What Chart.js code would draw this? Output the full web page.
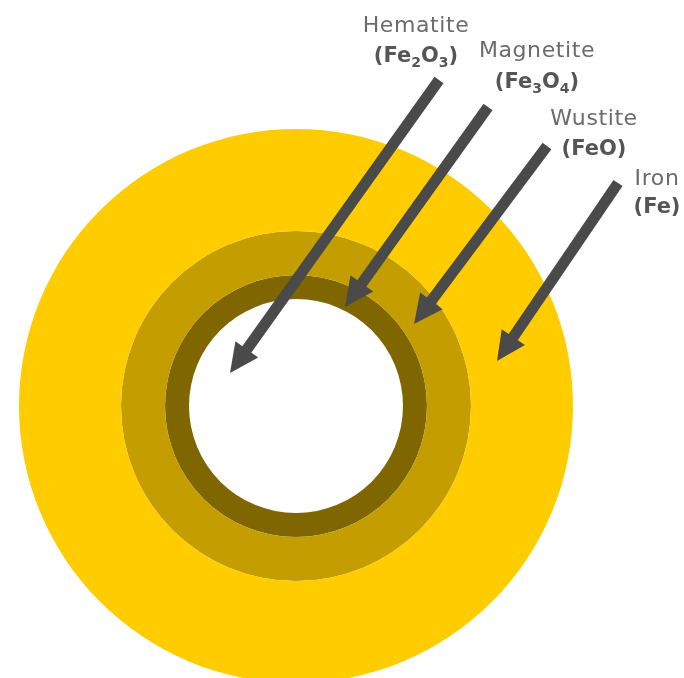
<!DOCTYPE html>
<html>
<head>
<meta charset="utf-8">
<script src="https://cdn.jsdelivr.net/npm/chart.js@4"></script>
<style>
  html, body { margin: 0; padding: 0; background: #fff; overflow: hidden; }
  #wrap { position: relative; width: 684px; height: 678px; overflow: hidden; }
</style>
</head>
<body>
<div id="wrap"><canvas id="layersChart" width="684" height="760"></canvas></div>
<script>
// layers from the outside in; radius = outer edge of each layer
const layerNames = ['Iron', 'Wustite', 'Magnetite', 'Hematite'];
const layerFormulas = ['(Fe)', '(FeO)', '(Fe3O4)', '(Fe2O3)'];
const layerRadii = [277, 175, 131, 107];

const layerColors = ['#ffcc00', '#c49e00', '#806600', '#ffffff'];

// ring thickness -> doughnut weight
const thickness = layerRadii.map((r, i) => r - (layerRadii[i + 1] || 0));

// arrow + label placement, offsets from the centre (at outer radius 277)
const notes = [
    { layer: 3, tail: [143, -326], tip: [-66, -33], x: 120, y1: -374, y2: -344 },
    { layer: 2, tail: [192, -299], tip: [49, -99], x: 241, y1: -349, y2: -318 },
    { layer: 1, tail: [251, -260], tip: [118, -82], x: 298, y1: -281, y2: -251 },
    { layer: 0, tail: [322, -223], tip: [201, -45], x: 361, y1: -221, y2: -193 }
];

function drawFormula(ctx, str, x, y) {
    const parts = str.split(/(\d+)/).filter(p => p !== '');
    const big = '600 21px "DejaVu Sans"';
    const small = '600 14px "DejaVu Sans"';
    let w = 0;
    parts.forEach(p => {
        ctx.font = /\d/.test(p) ? small : big;
        w += ctx.measureText(p).width;
    });
    let cx = x - w / 2;
    ctx.textAlign = 'left';
    parts.forEach(p => {
        const sub = /\d/.test(p);
        ctx.font = sub ? small : big;
        ctx.fillText(p, cx, sub ? y + 5 : y);
        cx += ctx.measureText(p).width;
    });
}

const arrowPlugin = {
    id: 'arrows',
    afterDraw(chart) {
        const arc = chart.getDatasetMeta(0).data[0];
        const k = arc.outerRadius / layerRadii[0];
        const ctx = chart.ctx;
        ctx.save();
        notes.forEach(n => {
            const x0 = arc.x + n.tail[0] * k, y0 = arc.y + n.tail[1] * k;
            const x1 = arc.x + n.tip[0] * k, y1 = arc.y + n.tip[1] * k;
            const len = Math.hypot(x1 - x0, y1 - y0);
            const ux = (x1 - x0) / len, uy = (y1 - y0) / len;
            const headLen = 29, headW = 14;
            const bx = x1 - ux * headLen, by = y1 - uy * headLen;

            ctx.strokeStyle = '#4a4a4a';
            ctx.fillStyle = '#4a4a4a';
            ctx.lineWidth = 11;
            ctx.lineCap = 'butt';
            ctx.beginPath();
            ctx.moveTo(x0, y0);
            ctx.lineTo(bx + ux * 2, by + uy * 2);
            ctx.stroke();

            ctx.beginPath();
            ctx.moveTo(x1, y1);
            ctx.lineTo(bx - uy * headW, by + ux * headW);
            ctx.lineTo(bx + uy * headW, by - ux * headW);
            ctx.closePath();
            ctx.fill();

            // labels
            ctx.textBaseline = 'alphabetic';
            ctx.textAlign = 'center';
            ctx.fillStyle = '#6b6b6b';
            ctx.font = '22px "DejaVu Sans"';
            ctx.letterSpacing = '0.6px';
            ctx.fillText(layerNames[n.layer], arc.x + n.x * k, arc.y + n.y1 * k);
            ctx.letterSpacing = '0px';
            ctx.fillStyle = '#555555';
            drawFormula(ctx, layerFormulas[n.layer], arc.x + n.x * k, arc.y + n.y2 * k);
        });
        ctx.restore();
    }
};

new Chart(document.getElementById('layersChart').getContext('2d'), {
    type: 'doughnut',
    data: {
        labels: ['layer'],
        datasets: layerNames.map((name, i) => ({
            label: name,
            data: [1],
            backgroundColor: layerColors[i],
            borderWidth: 0,
            weight: thickness[i]
        }))
    },
    options: {
        responsive: false,
        animation: false,
        events: [],
        cutout: 0,
        offset: 0,
        hoverOffset: 0,
        layout: { padding: { left: 19, top: 129, right: 111, bottom: 77 } },
        plugins: {
            legend: { display: false },
            tooltip: { enabled: false }
        }
    },
    plugins: [arrowPlugin]
});
</script>
</body>
</html>
